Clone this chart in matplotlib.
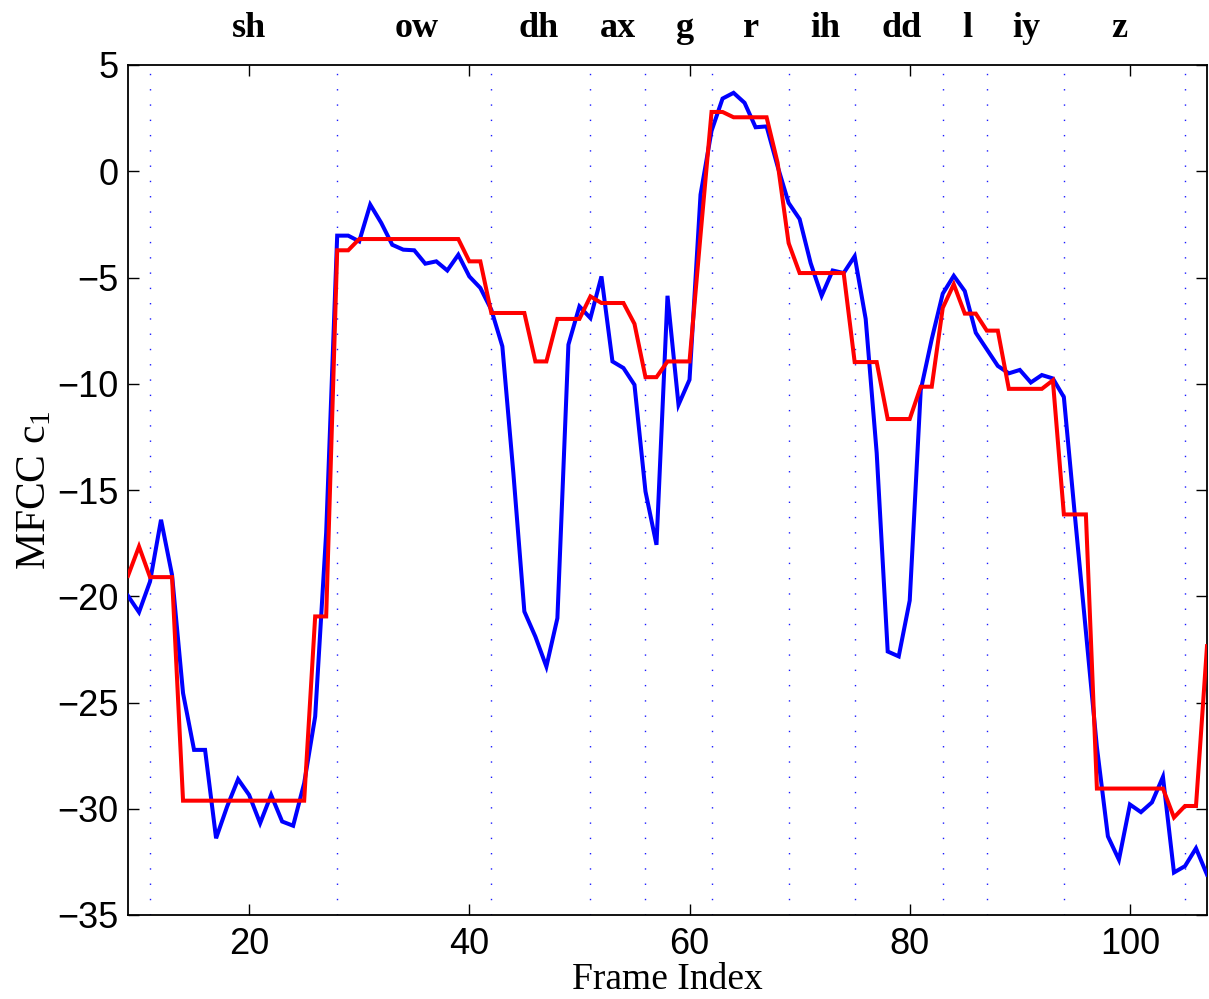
import numpy as np
import matplotlib
matplotlib.use("Agg")
import matplotlib.pyplot as plt

# ---- data -------------------------------------------------------------
frames = list(range(9, 108))

mfcc_original = [
    -19.98, -20.75, -19.31, -16.4, -19.0, -24.56, -27.23, -27.23, -31.39, -29.9,   # 9-18
    -28.61, -29.35, -30.68, -29.35, -30.6, -30.8, -28.8, -25.66, -17.0, -3.03,     # 19-28
    -3.03, -3.3, -1.57, -2.43, -3.46, -3.69, -3.72, -4.35, -4.24, -4.67,           # 29-38
    -3.93, -4.95, -5.49, -6.52, -8.24, -14.2, -20.72, -21.9, -23.31, -21.03,       # 39-48
    -8.16, -6.36, -6.91, -4.95, -8.95, -9.26, -10.05, -15.07, -17.58, -5.86,       # 49-58
    -10.99, -9.81, -1.1, 1.9, 3.42, 3.69, 3.22, 2.07, 2.11, 0.23,                  # 59-68
    -1.49, -2.25, -4.32, -5.86, -4.67, -4.79, -4.0, -6.95, -13.26, -22.6,          # 69-78
    -22.83, -20.2, -10.3, -7.9, -5.76, -4.92, -5.64, -7.6, -8.38, -9.16,           # 79-88
    -9.51, -9.35, -9.94, -9.59, -9.75, -10.63, -16.2, -21.66, -27.1, -31.3,        # 89-98
    -32.4, -29.8, -30.16, -29.7, -28.5, -33.0, -32.7, -31.86, -33.1,               # 99-107
]

mfcc_reconstructed = [
    -19.04, -17.66, -19.1, -19.1, -19.1, -29.62, -29.62, -29.62, -29.62, -29.62,   # 9-18
    -29.62, -29.62, -29.62, -29.62, -29.62, -29.62, -29.62, -20.95, -20.95, -3.72, # 19-28
    -3.72, -3.19, -3.19, -3.19, -3.19, -3.19, -3.19, -3.19, -3.19, -3.19,          # 29-38
    -3.19, -4.24, -4.24, -6.67, -6.67, -6.67, -6.67, -8.95, -8.95, -6.95,          # 39-48
    -6.95, -6.95, -5.89, -6.2, -6.2, -6.2, -7.18, -9.69, -9.69, -8.95,             # 49-58
    -8.95, -8.95, -3.0, 2.79, 2.79, 2.54, 2.54, 2.54, 2.54, 0.4,                   # 59-68
    -3.38, -4.79, -4.79, -4.79, -4.79, -4.79, -8.98, -8.98, -8.98, -11.66,         # 69-78
    -11.66, -11.66, -10.14, -10.14, -6.43, -5.32, -6.7, -6.7, -7.5, -7.5,          # 79-88
    -10.24, -10.24, -10.24, -10.24, -9.84, -16.15, -16.15, -16.15, -29.05, -29.05, # 89-98
    -29.05, -29.05, -29.05, -29.05, -29.05, -30.41, -29.87, -29.87, -22.35,        # 99-107
]

phone_boundaries = [11, 28, 42, 51, 56, 62, 69, 75, 83, 87, 94, 105]
phone_labels = ["sh", "ow", "dh", "ax", "g", "r", "ih", "dd", "l", "iy", "z"]
phone_label_pos = [20.0, 35.2, 46.3, 53.5, 59.6, 65.6, 72.3, 79.3, 85.2, 90.6, 99.0]

xticks = [20, 40, 60, 80, 100]
yticks = [5, 0, -5, -10, -15, -20, -25, -30, -35]

# ---- figure -----------------------------------------------------------
plt.rcParams["mathtext.fontset"] = "custom"
plt.rcParams["mathtext.rm"] = "Liberation Serif"
plt.rcParams["mathtext.it"] = "Liberation Serif:italic"

fig = plt.figure(figsize=(12.09, 9.99), dpi=100)
ax = fig.add_axes([128 / 1209, 1 - 915 / 999, (1207 - 128) / 1209, (915 - 65) / 999])

for b in phone_boundaries:
    ax.axvline(b, color=(0.1, 0.1, 1.0), linewidth=1.0,
               linestyle=(0, (1, 10)), zorder=1)

ax.plot(frames, mfcc_original, color=(0, 0, 1), linewidth=2.9, zorder=3,
        solid_joinstyle="miter")
ax.plot(frames, mfcc_reconstructed, color=(1, 0, 0), linewidth=2.9, zorder=4,
        solid_joinstyle="miter")

ax.set_xlim(9, 107)
ax.set_ylim(-35, 5)
ax.set_xticks(xticks)
ax.set_yticks(yticks)

for s in ax.spines.values():
    s.set_linewidth(1.3)
ax.tick_params(direction="in", length=8, width=1.0, top=True, right=True,
               labelsize=26, pad=7)
ax.tick_params(axis="x", pad=9)
for lab in ax.get_xticklabels() + ax.get_yticklabels():
    lab.set_fontfamily("Liberation Sans")

ax.set_xlabel("Frame Index", fontsize=27, family="Liberation Serif", labelpad=0)
ax.set_ylabel("MFCC c$_1$", fontsize=30, family="Liberation Serif", labelpad=2)

for lbl, xpos in zip(phone_labels, phone_label_pos):
    x_disp = ax.transData.transform((xpos, 0))[0]
    fig.text(x_disp / 1209, 1 - 37 / 999, lbl, ha="center", va="baseline",
             fontsize=26, fontweight="bold", family="Liberation Serif")

fig.savefig("out.png", dpi=100)
